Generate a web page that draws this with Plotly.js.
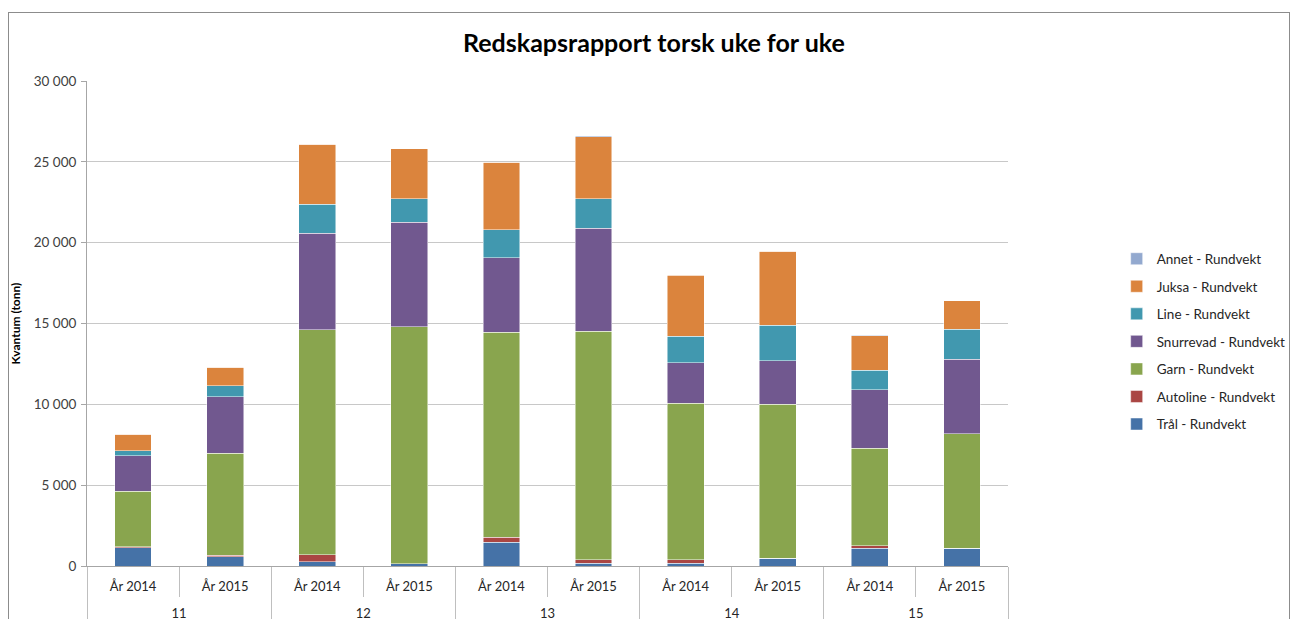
<!DOCTYPE html>
<html>
<head>
<meta charset="utf-8">
<script src="https://cdn.plot.ly/plotly-3.0.1.min.js"></script>
<style>
  html, body { margin: 0; padding: 0; background: #fff; }
  #frame { position: absolute; left: 8px; top: 12px; width: 1282px; height: 640px; border: 1px solid #8c8c8c; box-sizing: border-box; pointer-events: none; }
  #chart { width: 1295px; height: 619px; }
</style>
</head>
<body>
<div id="chart"></div>
<div id="frame"></div>
<script>
// Categories
const weeks = ["11", "11", "12", "12", "13", "13", "14", "14", "15", "15"];
const years = ["År 2014", "År 2015", "År 2014", "År 2015", "År 2014", "År 2015", "År 2014", "År 2015", "År 2014", "År 2015"];

// Series values (tonn)
const tral      = [1130, 575, 265, 125, 1460, 165, 185, 495, 1110, 1110];
const autoline  = [60, 105, 435, 0, 310, 225, 205, 0, 140, 0];
const garn      = [3420, 6280, 13910, 14675, 12700, 14130, 9670, 9505, 6040, 7060];
const snurrevad = [2220, 3510, 5960, 6450, 4590, 6360, 2510, 2700, 3600, 4620];
const line      = [310, 670, 1800, 1470, 1730, 1850, 1630, 2200, 1210, 1870];
const juksa     = [1010, 1150, 3720, 3100, 4190, 3820, 3790, 4560, 2145, 1760];
const annet     = [0, 0, 0, 0, 0, 60, 40, 0, 30, 0];

const seriesNames = ["Trål - Rundvekt", "Autoline - Rundvekt", "Garn - Rundvekt", "Snurrevad - Rundvekt", "Line - Rundvekt", "Juksa - Rundvekt", "Annet - Rundvekt"];
const seriesData = [tral, autoline, garn, snurrevad, line, juksa, annet];
const colors = ["#4572A7", "#AA4643", "#89A54E", "#71588F", "#4198AF", "#DB843D", "#93A9CF"];

// outer labels pushed one line down so they sit below the inner row
const outerLabels = weeks.map(w => "<br>" + w);

const traces = seriesData.map((vals, i) => ({
  type: "bar",
  name: seriesNames[i],
  x: [outerLabels, years],
  y: vals,
  legendgroup: "g" + i,
  legendrank: 100 - i,
  marker: { color: colors[i], line: { color: "rgba(255,255,255,0.6)", width: 0.8 } },
  hoverinfo: "name+y"
}));

const layout = {
  width: 1295,
  height: 619,
  barmode: "stack",
  bargap: 0.6,
  separators: ", ",
  paper_bgcolor: "#ffffff",
  plot_bgcolor: "#ffffff",
  margin: { l: 87, r: 287, t: 81, b: 53, pad: 0, autoexpand: false },
  font: { family: "Lato, 'Open Sans', sans-serif", color: "#404040", size: 13 },
  title: {
    text: "<b>Redskapsrapport torsk uke for uke</b>",
    font: { family: "Lato, 'Open Sans', sans-serif", size: 25, color: "#000000" },
    x: 0.505, xanchor: "center", y: 0.93, yanchor: "middle"
  },
  xaxis: {
    type: "multicategory",
    showline: true,
    linecolor: "#a6a6a6",
    linewidth: 1,
    ticks: "outside",
    ticklen: 30,
    tickcolor: "#bfbfbf",
    ticklabelstandoff: 8,
    showdividers: true,
    dividercolor: "#bfbfbf",
    dividerwidth: 1,
    tickfont: { size: 13, color: "#262626", family: "Lato, 'Open Sans', sans-serif" },
    showgrid: false,
    zeroline: false
  },
  yaxis: {
    range: [0, 30000],
    dtick: 5000,
    tickformat: ",d",
    showline: true,
    linecolor: "#a6a6a6",
    ticks: "outside",
    ticklen: 5,
    tickcolor: "#a6a6a6",
    ticklabelstandoff: 2,
    showgrid: true,
    gridcolor: "#c8c8c8",
    gridwidth: 1,
    zeroline: false,
    tickfont: { size: 13.5, color: "#404040" },
    title: {
      text: "<b>Kvantum (tonn)</b>",
      font: { size: 12, color: "#000000" },
      standoff: 10
    }
  },
  showlegend: true,
  legend: {
    x: 1.118, xanchor: "left",
    y: 0.463, yanchor: "middle",
    traceorder: "grouped",
    tracegroupgap: 7,
    font: { size: 13.5, color: "#262626" },
    itemwidth: 30,
    bgcolor: "rgba(0,0,0,0)"
  }
};

Plotly.newPlot("chart", traces, layout, { displayModeBar: false, staticPlot: true });
</script>
</body>
</html>
